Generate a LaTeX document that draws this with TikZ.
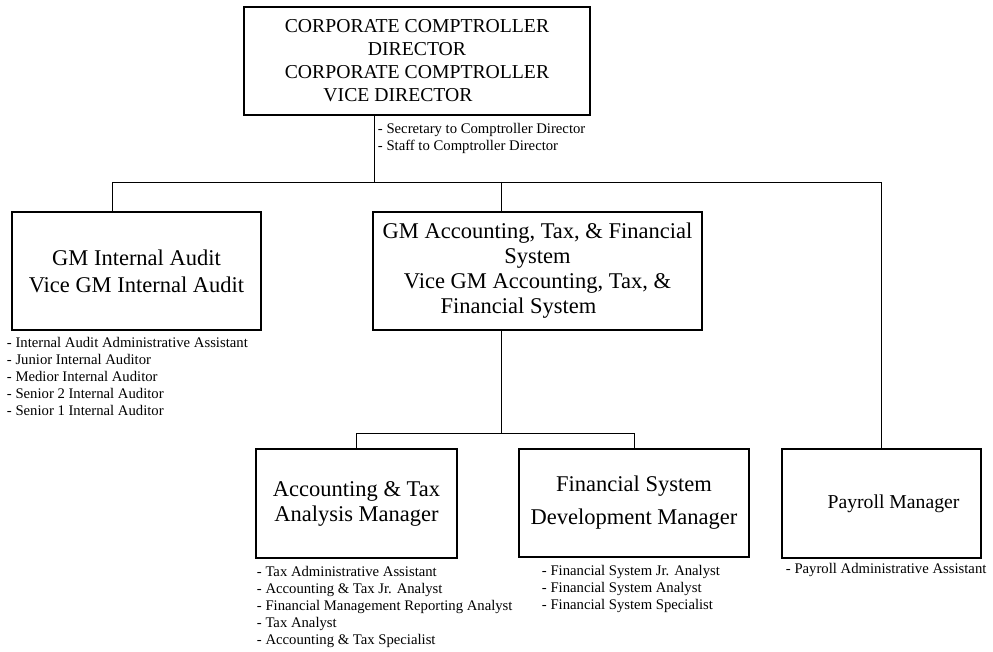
\documentclass[tikz,border=0pt]{standalone}
\usepackage{fontspec}
\setmainfont{Liberation Serif}
\usetikzlibrary{positioning}
\tikzset{
  unitbox/.style={draw,line width=2.5pt,align=center,inner sep=0pt,font=\fontsize{22.5}{25}\selectfont},
  stafflist/.style={align=left,inner sep=0pt,font=\fontsize{14.7}{17}\selectfont},
  link/.style={line width=0.9pt}
}
\newcommand\smallunit{\fontsize{19.7}{23}\selectfont}

\begin{document}
\begin{tikzpicture}[x=1pt,y=1pt]
    \useasboundingbox (0,0) rectangle (993,652);
    \node(ccd)[unitbox,minimum width=346pt,minimum height=108pt,font=\smallunit] at (417,591)
        {CORPORATE COMPTROLLER\\DIRECTOR\hspace*{58pt}\\CORPORATE COMPTROLLER\\VICE DIRECTOR\hspace*{38pt}};
    \node(audit)[unitbox,minimum width=249pt,minimum height=118pt] at (136.5,381)
        {GM Internal Audit\\[2pt]Vice GM Internal Audit};
    \node(acctax)[unitbox,minimum width=329pt,minimum height=118pt] at (537.5,381)
        {GM Accounting, Tax, \& Financial\\System\hspace*{60pt}\\Vice GM Accounting, Tax, \&\\Financial System\hspace*{38pt}};
    \node(taxmgr)[unitbox,minimum width=201pt,minimum height=109pt] at (356.5,148.5)
        {Accounting \& Tax\\Analysis Manager};
    \node(fsmgr)[unitbox,minimum width=230pt,minimum height=108pt] at (634,149)
        {Financial System\\[8pt]Development Manager};
    \node(payroll)[unitbox,minimum width=199pt,minimum height=109pt,font=\smallunit] at (881.5,148.5)
        {\hspace*{24pt}Payroll Manager};

    \node(ccdstaff)[stafflist,below right=7pt and 135pt of ccd.south west]
        {- Secretary to Comptroller Director\\- Staff to Comptroller Director};
    \node(auditstaff)[stafflist,below right=6pt and -4pt of audit.south west]
        {- Internal Audit Administrative Assistant\\- Junior Internal Auditor\\- Medior Internal Auditor\\- Senior 2 Internal Auditor\\- Senior 1 Internal Auditor};
    \node(taxstaff)[stafflist,below right=7pt and 2pt of taxmgr.south west]
        {- Tax Administrative Assistant\\- Accounting \& Tax Jr. Analyst\\- Financial Management Reporting Analyst\\- Tax Analyst\\- Accounting \& Tax Specialist};
    \node(fsstaff)[stafflist,below right=7pt and 24pt of fsmgr.south west]
        {- Financial System Jr. Analyst\\- Financial System Analyst\\- Financial System Specialist};
    \node(payrollstaff)[stafflist,below right=4pt and 5pt of payroll.south west]
        {- Payroll Administrative Assistant};

    \coordinate(bus) at (374,470);
    \coordinate(auditin) at (112,470);
    \coordinate(acctaxin) at (501,470);
    \coordinate(split) at (501,219);
    \draw[link] (ccd.south -| bus) -- (bus);
    \draw[link] (auditin |- audit.north) -- (auditin) -- (payroll.north |- auditin) -- (payroll.north);
    \draw[link] (acctaxin) -- (acctaxin |- acctax.north);
    \draw[link] (acctax.south -| split) -- (split);
    \draw[link] (taxmgr.north) |- (fsmgr.north |- split) -- (fsmgr.north);
\end{tikzpicture}
\end{document}
